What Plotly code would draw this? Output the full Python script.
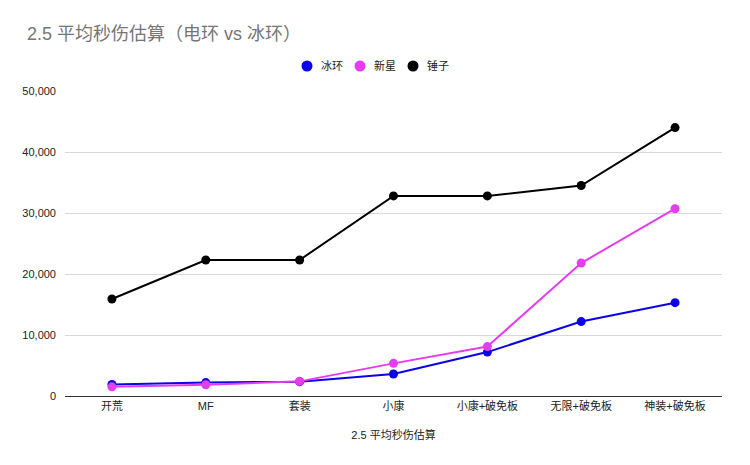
import plotly.graph_objects as go

# Dados do gráfico
categorias = ["开荒", "MF", "套装", "小康", "小康+破免板", "无限+破免板", "神装+破免板"]
bing_huan = [1900, 2200, 2350, 3600, 7200, 12200, 15300]
xin_xing = [1500, 1850, 2400, 5350, 8100, 21800, 30700]
chui_zi = [15900, 22300, 22300, 32800, 32800, 34500, 44000]

series = [("冰环", bing_huan, "#0c00e6"),
          ("新星", xin_xing, "#e63cf0"),
          ("锤子", chui_zi, "#000000")]

fig = go.Figure()

for nome, valores, cor in series:
    fig.add_trace(go.Scatter(x=categorias, y=valores, mode="lines+markers",
                             name=nome, showlegend=False,
                             line=dict(color=cor, width=2),
                             marker=dict(color=cor, size=9)))

fonte = "Liberation Sans, Arial, Noto Sans CJK SC, sans-serif"

# a página tem 8px de margem no body, então a figura fica 8px menor
fig.update_layout(
    width=742, height=457,
    margin=dict(l=57, r=28, t=83, b=69),
    paper_bgcolor="white", plot_bgcolor="white",
    font=dict(family=fonte, size=11, color="#222222"),
    showlegend=False,
    title=dict(text="2.5 平均秒伤估算（电环 vs 冰环）", x=19 / 742, xanchor="left",
               y=1 - 26 / 457, yanchor="middle",
               font=dict(size=18, color="#757575")),
    xaxis=dict(range=[-0.5, len(categorias) - 0.5], showgrid=False, showline=True,
               linecolor="#333333", linewidth=1, ticks="", tickfont=dict(size=11),
               title=dict(text="2.5 平均秒伤估算", font=dict(size=11), standoff=20)),
    yaxis=dict(range=[0, 50000], tickvals=[0, 10000, 20000, 30000, 40000, 50000],
               tickformat=",d", showgrid=True, gridcolor="#d9d9d9",
               zeroline=False, showline=False, ticks="", ticklabelstandoff=8),
)

# legenda manual: círculo + texto
leg_x = [307, 360, 413]
leg_y = (396 - 66) / 305
for (nome, _, cor), px in zip(series, leg_x):
    xp = (px - 65) / 657
    fig.add_shape(type="circle", xref="paper", yref="paper",
                  xsizemode="pixel", ysizemode="pixel", xanchor=xp, yanchor=leg_y,
                  x0=-5.5, x1=5.5, y0=-5.5, y1=5.5,
                  fillcolor=cor, line=dict(color=cor, width=0))
    fig.add_annotation(text=nome, xref="paper", yref="paper",
                       x=(px + 12 - 65) / 657, y=leg_y, xanchor="left",
                       yanchor="middle", showarrow=False,
                       font=dict(size=11, color="#222222"))

fig.write_html("out.html")
